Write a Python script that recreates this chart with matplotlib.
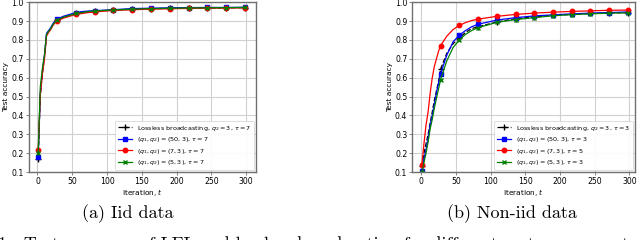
import matplotlib
matplotlib.use('Agg')
import matplotlib.pyplot as plt

# iteration grid and marker positions
t = [1, 4, 7, 10, 13, 16, 19, 22, 25, 28, 37, 46, 55, 64, 73, 82, 109, 136, 163, 190, 217, 244, 271, 298]
t_mark = [1, 28, 55, 82, 109, 136, 163, 190, 217, 244, 271, 298]

# (a) iid data
iid_lossless = [0.17, 0.50, 0.62, 0.71, 0.83, 0.845, 0.86, 0.88, 0.895, 0.905, 0.92, 0.93, 0.94, 0.945, 0.948, 0.952, 0.958, 0.962, 0.965, 0.967, 0.968, 0.969, 0.970, 0.971]
iid_50_3 = [0.18, 0.52, 0.63, 0.72, 0.835, 0.85, 0.865, 0.885, 0.90, 0.91, 0.925, 0.935, 0.945, 0.95, 0.953, 0.955, 0.960, 0.966, 0.968, 0.970, 0.971, 0.972, 0.972, 0.973]
iid_7_3 = [0.215, 0.51, 0.62, 0.70, 0.82, 0.84, 0.855, 0.875, 0.89, 0.90, 0.915, 0.925, 0.935, 0.94, 0.945, 0.948, 0.956, 0.960, 0.963, 0.965, 0.967, 0.968, 0.969, 0.970]
iid_5_3 = [0.20, 0.55, 0.65, 0.72, 0.83, 0.845, 0.86, 0.88, 0.895, 0.905, 0.92, 0.93, 0.94, 0.945, 0.95, 0.953, 0.959, 0.963, 0.966, 0.968, 0.969, 0.970, 0.971, 0.972]

# (b) non-iid data
niid_lossless = [0.13, 0.20, 0.25, 0.30, 0.36, 0.42, 0.48, 0.53, 0.58, 0.645, 0.73, 0.78, 0.81, 0.84, 0.86, 0.87, 0.895, 0.912, 0.922, 0.930, 0.935, 0.940, 0.943, 0.945]
niid_50_3 = [0.105, 0.17, 0.22, 0.28, 0.35, 0.40, 0.46, 0.52, 0.57, 0.62, 0.72, 0.79, 0.825, 0.85, 0.87, 0.883, 0.905, 0.918, 0.927, 0.933, 0.938, 0.942, 0.945, 0.948]
niid_7_3 = [0.14, 0.25, 0.35, 0.42, 0.52, 0.60, 0.66, 0.70, 0.74, 0.77, 0.82, 0.855, 0.877, 0.892, 0.903, 0.91, 0.925, 0.935, 0.942, 0.947, 0.951, 0.954, 0.957, 0.958]
niid_5_3 = [0.098, 0.15, 0.20, 0.26, 0.33, 0.38, 0.44, 0.49, 0.54, 0.59, 0.69, 0.76, 0.80, 0.83, 0.85, 0.865, 0.893, 0.908, 0.918, 0.928, 0.934, 0.938, 0.942, 0.943]

labels_a = [r'Lossless broadcasting, $q_2=3$, $\tau=7$',
            r'$(q_1,q_2)=(50,3)$, $\tau=7$',
            r'$(q_1,q_2)=(7,3)$, $\tau=7$',
            r'$(q_1,q_2)=(5,3)$, $\tau=7$']
labels_b = [r'Lossless broadcasting, $q_2=3$, $\tau=3$',
            r'$(q_1,q_2)=(50,3)$, $\tau=3$',
            r'$(q_1,q_2)=(7,3)$, $\tau=5$',
            r'$(q_1,q_2)=(5,3)$, $\tau=3$']

mark_idx = [t.index(v) for v in t_mark]
styles = [dict(color='black', linestyle='--', marker='+', markersize=3.8, markeredgewidth=1.0),
          dict(color='blue', linestyle='-', marker='s', markersize=2.8),
          dict(color='red', linestyle='-', marker='o', markersize=3.2),
          dict(color='green', linestyle='-', marker='x', markersize=3.2, markeredgewidth=1.0)]

plt.rcParams['mathtext.fontset'] = 'dejavusans'

fig = plt.figure(figsize=(6.4, 2.4), dpi=100)
ax1 = fig.add_axes([0.045, 0.283, 0.355, 0.708])
ax2 = fig.add_axes([0.644, 0.283, 0.348, 0.708])


def draw(ax, series, labels, xlim):
    for ys, lab, st in zip(series, labels, styles):
        ax.plot(t, ys, lw=0.9, markevery=mark_idx, label=lab, **st)
    ax.set_xlim(*xlim)
    ax.set_ylim(0.1, 1.0)
    ax.set_xticks([0, 50, 100, 150, 200, 250, 300])
    ax.set_yticks([0.1, 0.2, 0.3, 0.4, 0.5, 0.6, 0.7, 0.8, 0.9, 1.0])
    ax.grid(True, color='#d0d0d0', lw=0.8)
    ax.set_axisbelow(True)
    for s in ax.spines.values():
        s.set_color('#707070')
        s.set_linewidth(1.0)
    ax.tick_params(labelsize=5.6, length=2, width=0.6, pad=1.5, color='#707070')
    ax.set_xlabel(r'Iteration, $t$', fontsize=5.3, labelpad=1)
    ax.set_ylabel('Test accuracy', fontsize=5.3, labelpad=1.5)
    leg = ax.legend(loc='lower right', fontsize=4.6, handlelength=2.2, borderpad=0.45,
                    labelspacing=0.4, framealpha=0.9, fancybox=True, borderaxespad=0.3)
    leg.get_frame().set_linewidth(0.5)


draw(ax1, [iid_lossless, iid_50_3, iid_7_3, iid_5_3], labels_a, (-12.5, 314))
draw(ax2, [niid_lossless, niid_50_3, niid_7_3, niid_5_3], labels_b, (-13, 308))

fig.text(0.2, 0.11, '(a) Iid data', fontsize=13, family='cmr10', ha='center', va='center')
fig.text(0.80, 0.11, '(b) Non-iid data', fontsize=13, family='cmr10', ha='center', va='center')
fig.text(-0.003, 0.015, '1:  Test accuracy of LFL and lossless broadcasting for different system parameters and data',
         fontsize=13, family='cmr10', ha='left', va='top')

fig.savefig('out.png', dpi=100)
